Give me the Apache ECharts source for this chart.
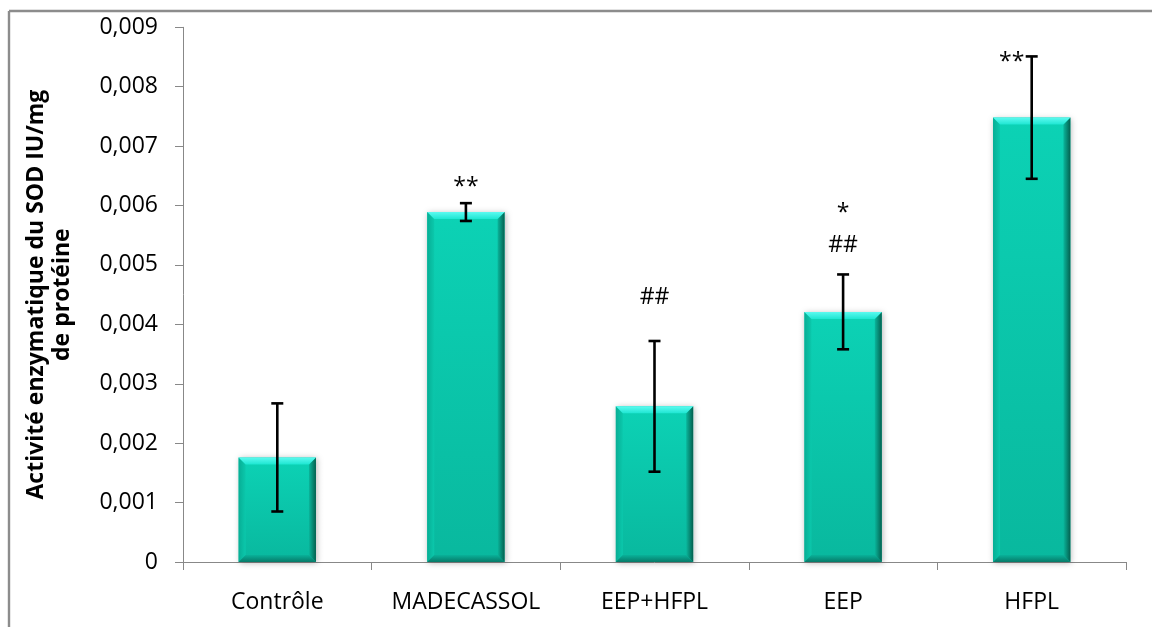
<!DOCTYPE html>
<html>
<head>
<meta charset="utf-8">
<script src="https://cdn.jsdelivr.net/npm/echarts@6/dist/echarts.min.js"></script>
<style>
  html, body { margin: 0; padding: 0; background: #fff; }
  #chart { width: 1152px; height: 627px; }
</style>
</head>
<body>
<div id="chart"></div>
<script>
// SOD enzymatic activity per treatment group (IU/mg protein), mean ± error
const categories = ['Contrôle', 'MADECASSOL', 'EEP+HFPL', 'EEP', 'HFPL'];
const activity = [0.00176, 0.00589, 0.00262, 0.00421, 0.00748];
const errors = [0.00091, 0.00015, 0.00110, 0.00063, 0.00103];
// significance marks: * vs control, # vs reference
const starMarks = ['', '**', '', '*', '**'];
const hashMarks = ['', '', '##', '##', ''];
const yTicks = { min: 0, max: 0.009, interval: 0.001 };

const FONT = '"Open Sans", "Noto Sans", sans-serif';

// pixel offsets of the significance marks from the top of each error bar
const starOffset = [[0, 0], [0, -16], [0, 0], [0, -61], [-20, 6]];
const hashOffset = [[0, 0], [0, 0], [0, -44], [0, -29], [0, 0]];

const chart = echarts.init(document.getElementById('chart'), null, { renderer: 'canvas' });

function bevelBar(params, api) {
  const i = api.value(0);
  const v = api.value(1);
  const base = api.coord([i, 0]);
  const top = api.coord([i, v]);
  const bw = api.size([1, 0])[0] * 0.41;
  const x0 = base[0] - bw / 2;
  const x1 = x0 + bw;
  const y0 = top[1];
  const y1 = base[1];
  const b = 7;
  return {
    type: 'group',
    children: [
      {
        type: 'rect',
        shape: { x: x0, y: y0, width: bw, height: y1 - y0 },
        style: {
          fill: new echarts.graphic.LinearGradient(0, 0, 0, 1, [
            { offset: 0, color: '#0cd2b5' },
            { offset: 1, color: '#09b89e' }
          ]),
          shadowBlur: 6,
          shadowColor: 'rgba(0,0,0,0.28)',
          shadowOffsetX: 1,
          shadowOffsetY: 1
        }
      },
      {
        type: 'polygon',
        shape: { points: [[x0, y0], [x0 + b, y0 + b], [x0 + b, y1 - b], [x0, y1]] },
        style: {
          fill: new echarts.graphic.LinearGradient(0, 0, 1, 0, [
            { offset: 0, color: '#07ae95' },
            { offset: 1, color: '#0bc8ac' }
          ])
        }
      },
      {
        type: 'polygon',
        shape: { points: [[x1, y0], [x1, y1], [x1 - b, y1 - b], [x1 - b, y0 + b]] },
        style: {
          fill: new echarts.graphic.LinearGradient(0, 0, 1, 0, [
            { offset: 0, color: '#0ab69c' },
            { offset: 1, color: '#04604f' }
          ])
        }
      },
      {
        type: 'polygon',
        shape: { points: [[x0, y1], [x1, y1], [x1 - b, y1 - b], [x0 + b, y1 - b]] },
        style: {
          fill: new echarts.graphic.LinearGradient(0, 0, 0, 1, [
            { offset: 0, color: '#09b199' },
            { offset: 1, color: '#067a68' }
          ])
        }
      },
      {
        type: 'polygon',
        shape: { points: [[x0, y0], [x1, y0], [x1 - b, y0 + b], [x0 + b, y0 + b]] },
        style: {
          fill: new echarts.graphic.LinearGradient(0, 0, 0, 1, [
            { offset: 0, color: '#5cfaf0' },
            { offset: 1, color: '#1ee6d2' }
          ])
        }
      }
    ]
  };
}

function errorBar(params, api) {
  const i = api.value(0);
  const v = api.value(1);
  const e = api.value(2);
  const hi = api.coord([i, v + e]);
  const lo = api.coord([i, v - e]);
  const cap = 6;
  const lineStyle = { stroke: '#000', lineWidth: 2.6 };
  const idx = params.dataIndex;
  const markFont = '23px ' + FONT;
  const children = [
    { type: 'line', shape: { x1: hi[0], y1: hi[1], x2: lo[0], y2: lo[1] }, style: lineStyle },
    { type: 'line', shape: { x1: hi[0] - cap, y1: hi[1], x2: hi[0] + cap, y2: hi[1] }, style: lineStyle },
    { type: 'line', shape: { x1: lo[0] - cap, y1: lo[1], x2: lo[0] + cap, y2: lo[1] }, style: lineStyle }
  ];
  if (starMarks[idx]) {
    children.push({
      type: 'text',
      x: hi[0] + starOffset[idx][0],
      y: hi[1] + starOffset[idx][1],
      style: { text: starMarks[idx], fill: '#000', font: markFont, align: 'center', verticalAlign: 'middle' }
    });
  }
  if (hashMarks[idx]) {
    children.push({
      type: 'text',
      x: hi[0] + hashOffset[idx][0],
      y: hi[1] + hashOffset[idx][1],
      style: { text: hashMarks[idx], fill: '#000', font: markFont, align: 'center', verticalAlign: 'middle' }
    });
  }
  return { type: 'group', children };
}

const option = {
  backgroundColor: '#ffffff',
  animation: false,
  grid: { left: 183, right: 26, top: 27.3, bottom: 65, containLabel: false },
  graphic: [
    {
      type: 'line',
      shape: { x1: 9, y1: 11, x2: 1152, y2: 11 },
      style: { stroke: '#8c8c8c', lineWidth: 2.4 },
      silent: true
    },
    {
      type: 'line',
      shape: { x1: 9, y1: 11, x2: 9, y2: 627 },
      style: { stroke: '#8c8c8c', lineWidth: 2.4 },
      silent: true
    }
  ],
  xAxis: {
    type: 'category',
    data: categories,
    boundaryGap: true,
    axisLine: { lineStyle: { color: '#888', width: 1 } },
    axisTick: { show: true, length: 8, lineStyle: { color: '#888' } },
    axisLabel: { color: '#000', fontFamily: FONT, fontSize: 23, margin: 29, interval: 0 },
    splitLine: { show: false }
  },
  yAxis: {
    type: 'value',
    min: yTicks.min,
    max: yTicks.max,
    interval: yTicks.interval,
    name: 'Activité enzymatique du SOD IU/mg\nde protéine',
    nameLocation: 'middle',
    nameGap: 108,
    nameTextStyle: { color: '#000', fontFamily: FONT, fontSize: 23, fontWeight: 'bold', lineHeight: 26 },
    axisLine: { show: true, lineStyle: { color: '#888', width: 1 } },
    axisTick: { show: true, length: 8, lineStyle: { color: '#888' } },
    axisLabel: {
      color: '#000', fontFamily: FONT, fontSize: 23, margin: 25,
      formatter: v => (v === 0 ? '0' : v.toFixed(3).replace('.', ','))
    },
    splitLine: { show: false }
  },
  series: [
    {
      type: 'custom',
      renderItem: bevelBar,
      data: activity.map((v, i) => [i, v]),
      encode: { x: 0, y: 1 },
      z: 2
    },
    {
      type: 'custom',
      renderItem: errorBar,
      data: activity.map((v, i) => [i, v, errors[i]]),
      encode: { x: 0, y: [1] },
      z: 3
    }
  ]
};

chart.setOption(option);
</script>
</body>
</html>
